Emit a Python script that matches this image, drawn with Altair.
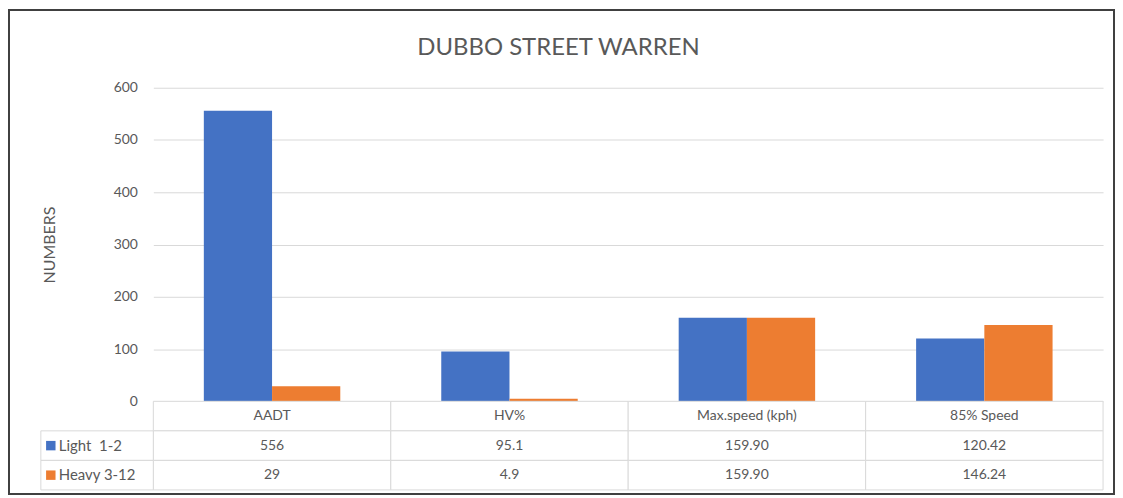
import altair as alt
import pandas as pd

# ---- data ----
categories = ["AADT", "HV%", "Max.speed (kph)", "85% Speed"]
series_names = ["Light\u00a0 1-2", "Heavy 3-12"]
light_values = [556, 95.1, 159.90, 120.42]
heavy_values = [29, 4.9, 159.90, 146.24]
light_labels = ["556", "95.1", "159.90", "120.42"]
heavy_labels = ["29", "4.9", "159.90", "146.24"]
y_ticks = [0, 100, 200, 300, 400, 500, 600]
colors = ["#4472C4", "#ED7D31"]
title_text = "DUBBO STREET WARREN"
y_title = "NUMBERS"

# ---- tables built from the arrays ----
bars_df = pd.DataFrame(
    [{"category": c, "series": series_names[0], "value": v} for c, v in zip(categories, light_values)]
    + [{"category": c, "series": series_names[1], "value": v} for c, v in zip(categories, heavy_values)]
)
row_order = ["hdr"] + series_names
table_df = pd.DataFrame(
    [{"category": c, "row": "hdr", "txt": c} for c in categories]
    + [{"category": c, "row": series_names[0], "txt": t} for c, t in zip(categories, light_labels)]
    + [{"category": c, "row": series_names[1], "txt": t} for c, t in zip(categories, heavy_labels)]
)
rowlab_df = pd.DataFrame({"row": series_names, "series": series_names})

GRAY = "#595959"
GRID = "#d9d9d9"
W = 954
H_BARS = 315
H_TABLE_END = 404

x_enc = alt.X("category:N", sort=categories, axis=None,
              scale=alt.Scale(paddingInner=0, paddingOuter=0))
color_scale = alt.Scale(domain=series_names, range=colors)

frame = alt.Chart(pd.DataFrame({"a": [0]})).mark_rect(
    fillOpacity=0, stroke="#404040", strokeWidth=2
).encode(
    x=alt.value(-145), x2=alt.value(965), y=alt.value(-78), y2=alt.value(408)
)

title = alt.Chart(pd.DataFrame({"t": [title_text]})).mark_text(
    fontSize=24, color=GRAY, baseline="middle", align="center"
).encode(x=alt.value(407), y=alt.value(-40), text="t:N")

bars = alt.Chart(bars_df).mark_bar().encode(
    x=x_enc,
    xOffset=alt.XOffset("series:N", sort=series_names,
                        scale=alt.Scale(paddingInner=0, paddingOuter=0.74)),
    y=alt.Y("value:Q",
            scale=alt.Scale(domain=[0, 600], range=[H_BARS, 0], nice=False),
            axis=alt.Axis(values=y_ticks, title=y_title, grid=True, gridColor=GRID,
                          domain=False, ticks=False, tickSize=0, labelPadding=16,
                          labelFontSize=14, labelColor=GRAY, titleFontSize=16,
                          titleFontWeight="normal", titleColor=GRAY, titlePadding=56)),
    color=alt.Color("series:N", scale=color_scale, legend=None),
)

y_tab = alt.Y("row:N", sort=row_order, axis=None,
              scale=alt.Scale(domain=row_order, range=[H_BARS, H_TABLE_END],
                              paddingInner=0, paddingOuter=0))

cells = alt.Chart(table_df).mark_rect(fill="white", stroke=GRID, strokeWidth=1).encode(
    x=x_enc, y=y_tab
)
texts = alt.Chart(table_df).mark_text(fontSize=14, color=GRAY).encode(
    x=x_enc, y=y_tab, text="txt:N"
)
label_cells = alt.Chart(rowlab_df).mark_rect(fill="white", stroke=GRID, strokeWidth=1).encode(
    x=alt.value(-113), x2=alt.value(0), y=y_tab
)
squares = alt.Chart(rowlab_df).mark_square(size=90, opacity=1).encode(
    x=alt.value(-103), y=y_tab,
    color=alt.Color("series:N", scale=color_scale, legend=None)
)
row_labels = alt.Chart(rowlab_df).mark_text(fontSize=15, color=GRAY, align="left").encode(
    x=alt.value(-95), y=y_tab, text="row:N"
)

table = alt.layer(cells, label_cells, squares, row_labels, texts)

chart = alt.layer(frame, title, bars, table).resolve_scale(y="independent").properties(
    width=W, height=H_TABLE_END, padding=0
).configure(font="Lato").configure_view(stroke=None)

chart.save("out.html", embed_options={"renderer": "svg", "actions": False})
